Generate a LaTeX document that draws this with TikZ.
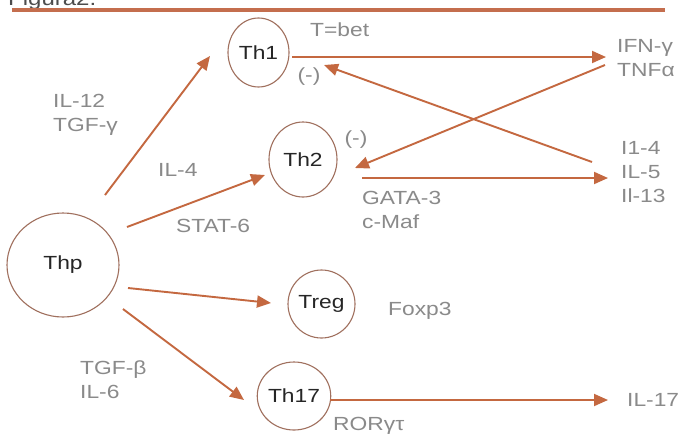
\documentclass[tikz,border=0pt]{standalone}
\usepackage{fontspec}
\setmainfont{Liberation Sans}[FakeStretch=1.2]
\usetikzlibrary{arrows.meta,shapes.geometric}
\definecolor{arrc}{RGB}{196,104,64}
\definecolor{circc}{RGB}{160,112,94}
\definecolor{lab}{RGB}{138,138,138}
\definecolor{rulec}{RGB}{196,110,78}
\begin{document}
\begin{tikzpicture}[x=1pt,y=-1pt,
  cell/.style={ellipse, draw=circc, line width=1.1pt, inner sep=0pt,
    font=\fontsize{19}{20}\selectfont, text=black!85},
  lbl/.style={anchor=west, text=lab, font=\fontsize{19}{24}\selectfont,
    align=left, inner sep=0pt},
  arr/.style={draw=arrc, line width=1.9pt, -{Triangle[length=14pt,width=12pt]}}]
\useasboundingbox (0,0) rectangle (680,445);
\clip (0,0) rectangle (680,445);
\fill[white] (0,0) rectangle (680,445);
\node[anchor=base west, inner sep=0pt, text=black!70, font=\fontsize{20}{24}\selectfont] (fig) at (8,5) {Figura2.};
\draw[rulec, line width=4pt] (12,10) -- (665,10);

\node[cell, minimum width=61, minimum height=69] (th1) at (258.5,52.5) {Th1};
\node[cell, minimum width=68, minimum height=75] (th2) at (303,159.5) {Th2};
\node[cell, minimum width=112, minimum height=104] (thp) at (63,265) {Thp};
\node[cell, minimum width=67, minimum height=68] (treg) at (321.5,304) {Treg};
\node[cell, minimum width=68, minimum height=68] (th17) at (294,396) {Th17};

\node[lbl] (tbet) at (310,30) {T=bet};
\node[lbl, anchor=center] (neg1) at (309,77) {(-)};
\node[lbl, anchor=center] (neg2) at (356,140) {(-)};
\node[lbl] (il12) at (53,115) {IL-12\\TGF-γ};
\node[lbl] (il4) at (158,170) {IL-4};
\node[lbl] (stat6) at (176,226) {STAT-6};
\node[lbl] (gata) at (362,210) {GATA-3\\c-Maf};
\node[lbl] (ifn) at (617,58) {IFN-γ\\TNFα};
\node[lbl] (ils) at (621,172) {I1-4\\IL-5\\Il-13};
\node[lbl] (foxp) at (388,311) {Foxp3};
\node[lbl] (tgfb) at (80,380) {TGF-β\\IL-6};
\node[lbl] (ror) at (333,426) {RORγτ};
\node[lbl] (il17) at (627,400) {IL-17};

\draw[arr] ([shift={(42,-70)}]thp.center) -- ([shift={(-48.5,3.5)}]th1.center);
\draw[arr] ([shift={(64,-38)}]thp.center) -- ([shift={(-38,15.5)}]th2.center);
\draw[arr] ([shift={(65,23)}]thp.center) -- ([shift={(-50.5,-1)}]treg.center);
\draw[arr] ([shift={(60,44)}]thp.center) -- ([shift={(-50,4)}]th17.center);
\draw[arr] ([shift={(33.5,4.5)}]th1.center) -- ([shift={(-11,-1)}]ifn.west);
\draw[arr] ([shift={(-12,7)}]ifn.west) -- ([shift={(52,8.5)}]th2.center);
\draw[arr] ([shift={(59,18.5)}]th2.center) -- ([shift={(-13,6)}]ils.west);
\draw[arr] ([shift={(-29,-10)}]ils.west) -- ([shift={(65.5,12.5)}]th1.center);
\draw[arr] ([shift={(36,4)}]th17.center) -- ([shift={(-19,0)}]il17.west);
\end{tikzpicture}
\end{document}
